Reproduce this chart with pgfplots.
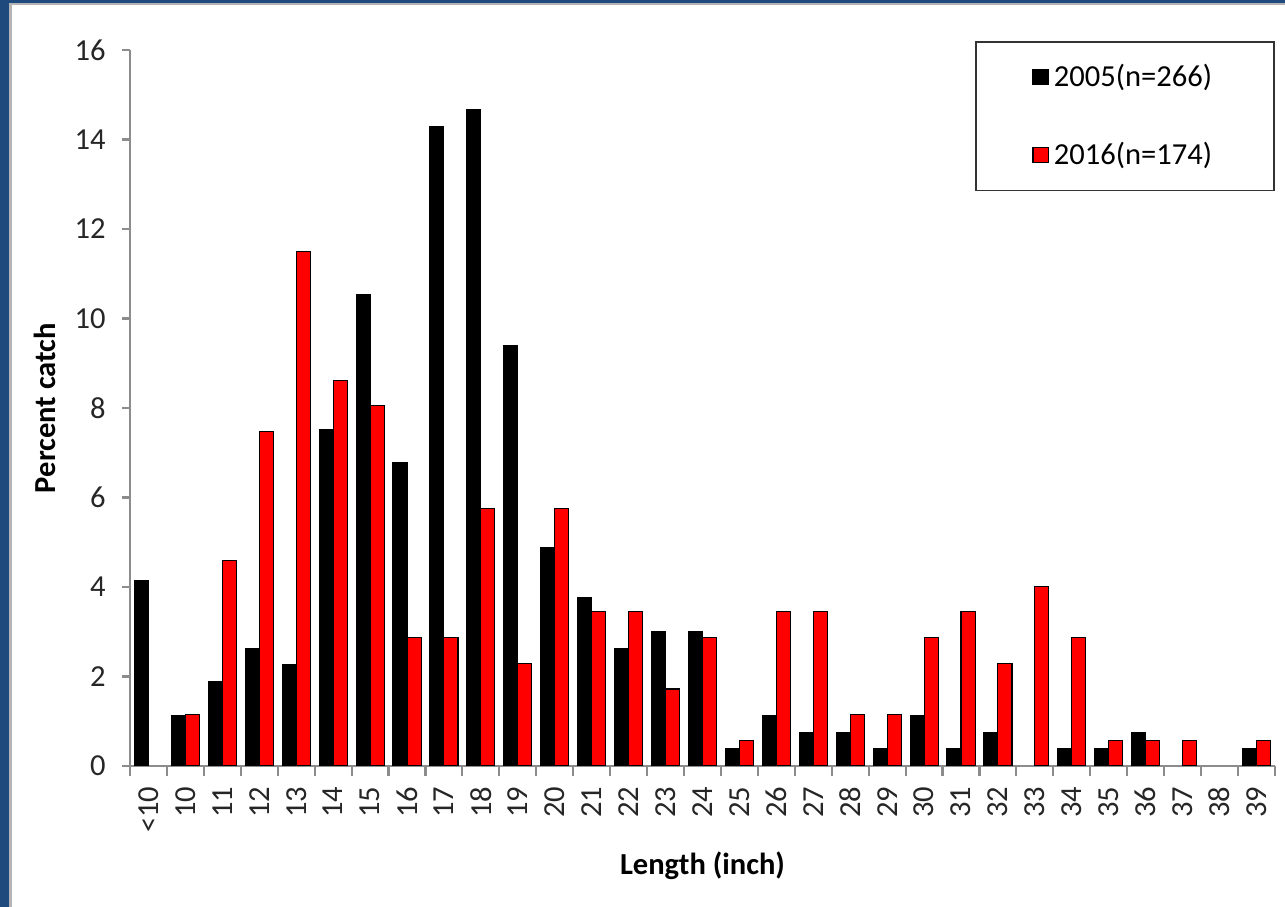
\documentclass[border=0pt]{standalone}
\usepackage{pgfplots}
\pgfplotsset{compat=1.18}
\usepackage{pgfplotstable}
\usepackage{fontspec}
\setmainfont{Carlito}
\usetikzlibrary{calc}

\definecolor{axisgrey}{HTML}{8C8C8C}
\definecolor{frameblue}{HTML}{1F4A7E}
\definecolor{framegrey}{HTML}{B4B4B4}

% percent catch per length class (index 0 = <10, 1 = 10, ..., 30 = 39)
\pgfplotstableread{
idx y2005 y2016
0  4.14  nan
1  1.13  1.15
2  1.88  4.60
3  2.63  7.47
4  2.26  11.49
5  7.52  8.62
6  10.53 8.05
7  6.77  2.87
8  14.29 2.87
9  14.66 5.75
10 9.40  2.30
11 4.89  5.75
12 3.76  3.45
13 2.63  3.45
14 3.01  1.72
15 3.01  2.87
16 0.38  0.57
17 1.13  3.45
18 0.75  3.45
19 0.75  1.15
20 0.38  1.15
21 1.13  2.87
22 0.38  3.45
23 0.75  2.30
24 nan   4.02
25 0.38  2.87
26 0.38  0.57
27 0.75  0.57
28 nan   0.57
29 nan   nan
30 0.38  0.57
}\catchdata

\begin{document}
\begin{tikzpicture}
\begin{axis}[
    name=ax,
    scale only axis,
    width=15.148cm,
    height=9.473cm,
    ybar=0pt,
    bar width=0.38,
    xmin=-0.5, xmax=30.5,
    ymin=0, ymax=16,
    axis x line*=bottom,
    axis y line*=left,
    axis line style={axisgrey, line width=0.8pt},
    xtick={0,...,30},
    xticklabels={<10,10,11,12,13,14,15,16,17,18,19,20,21,22,23,24,25,26,27,28,29,30,31,32,33,34,35,36,37,38,39},
    major x tick style={draw=none},
    minor xtick={-0.5,0.5,...,30.5},
    minor x tick style={axisgrey, line width=0.8pt},
    minor tick length=0.13cm,
    ytick={0,2,...,16},
    y tick style={axisgrey, line width=0.8pt},
    major tick length=0.1cm,
    tick align=outside,
    tick pos=left,
    xticklabel style={rotate=90, anchor=east, font=\fontsize{11.5}{13}\selectfont, text=black!85, xshift=-0.05cm},
    yticklabel style={font=\fontsize{11.5}{13}\selectfont, text=black!85, xshift=-0.1cm},
    /pgf/number format/assume math mode=true,
    ylabel={Percent catch},
    ylabel style={at={(axis description cs:-0.074,0.5)}, anchor=center, font=\bfseries\fontsize{11.5}{13}\selectfont},
    xlabel={Length (inch)},
    xlabel style={at={(axis description cs:0.5,-0.14)}, anchor=center, font=\bfseries\fontsize{11.5}{13}\selectfont},
    legend style={
        at={(axis description cs:1,1.0126)}, anchor=north east,
        draw=black!80, line width=0.6pt,
        font=\fontsize{11.5}{13}\selectfont,
        inner xsep=0.75cm, inner ysep=0.22cm,
        row sep=0.55cm,
        legend cell align=left,
    },
    legend image code/.code={
        \draw[#1, line width=0.4pt] (0cm,-0.1cm) rectangle (0.2cm,0.1cm);
    },
]
\addplot[fill=black, draw=black, line width=0.4pt] table[x=idx, y=y2005] {\catchdata};
\addplot[fill=red, draw=black, line width=0.4pt] table[x=idx, y=y2016] {\catchdata};
\legend{2005(n=266), 2016(n=174)}
\end{axis}
% outer frame of the slide
\pgfresetboundingbox
\coordinate (pl) at ($(ax.south west)+(-1.720,-1.865)$);
\coordinate (pu) at ($(ax.south west)+(15.281,10.134)$);
\useasboundingbox (pl) rectangle (pu);
\fill[frameblue] (pl) rectangle ($(pl |- pu)+(0.119,0)$);
\fill[frameblue] ($(pl |- pu)+(0,-0.040)$) rectangle (pu);
\fill[framegrey] ($(pl)+(0.119,0)$) rectangle ($(pl |- pu)+(0.159,-0.040)$);
\fill[framegrey] ($(pl |- pu)+(0.159,-0.040)$) rectangle ($(pu)+(0,-0.070)$);
\end{tikzpicture}
\end{document}
